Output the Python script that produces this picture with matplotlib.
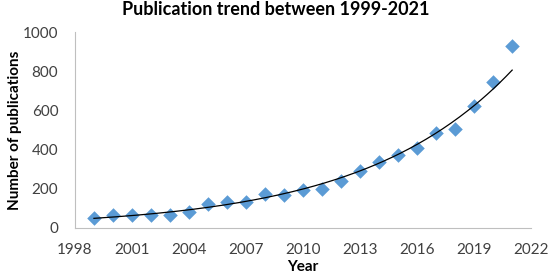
import numpy as np
import matplotlib.pyplot as plt

# data
anos = np.arange(1999, 2022)
publicacoes = [49, 65, 68, 68, 66, 82, 124, 133, 133, 173, 170, 194,
               197, 240, 292, 337, 372, 408, 486, 503, 622, 746, 930]

titulo = 'Publication trend between 1999-2021'
xticks = [1998, 2001, 2004, 2007, 2010, 2013, 2016, 2019, 2022]
yticks = [0, 200, 400, 600, 800, 1000]

plt.rcParams['font.family'] = ['Lato', 'DejaVu Sans']

fig = plt.figure(figsize=(5.51, 2.74), dpi=100)
ax = fig.add_axes([0.136, 0.168, 0.828, 0.715])

ax.scatter(anos, publicacoes, marker='D', s=55, color='#5B9BD5', zorder=2, linewidths=0)

# exponential trendline (log-linear fit, like Excel)
b, a = np.polyfit(anos, np.log(publicacoes), 1)
xs = np.linspace(anos[0], anos[-1], 200)
ax.plot(xs, np.exp(a + b * xs), color='black', linewidth=0.9, zorder=3)

ax.set_xlim(1998, 2022)
ax.set_ylim(0, 1000)
ax.set_xticks(xticks)
ax.set_yticks(yticks)
ax.tick_params(length=0, labelsize=11, colors='#404040')
ax.tick_params(axis='x', pad=11)
ax.tick_params(axis='y', pad=12)
for s in ['top', 'right']:
    ax.spines[s].set_visible(False)
for s in ['left', 'bottom']:
    ax.spines[s].set_color('#BFBFBF')

# title centered on the figure, like Excel
fig.text(0.5, 0.965, titulo, fontsize=13, fontweight='bold', ha='center', va='center')
ax.set_xlabel('Year', fontsize=11, fontweight='bold', va='top')
ax.xaxis.set_label_coords(0.5, -0.165)
ax.set_ylabel('Number of publications', fontsize=11, fontweight='bold', va='center')
ax.yaxis.set_label_coords(-0.132, 0.5)

fig.savefig('out.png', dpi=100)
